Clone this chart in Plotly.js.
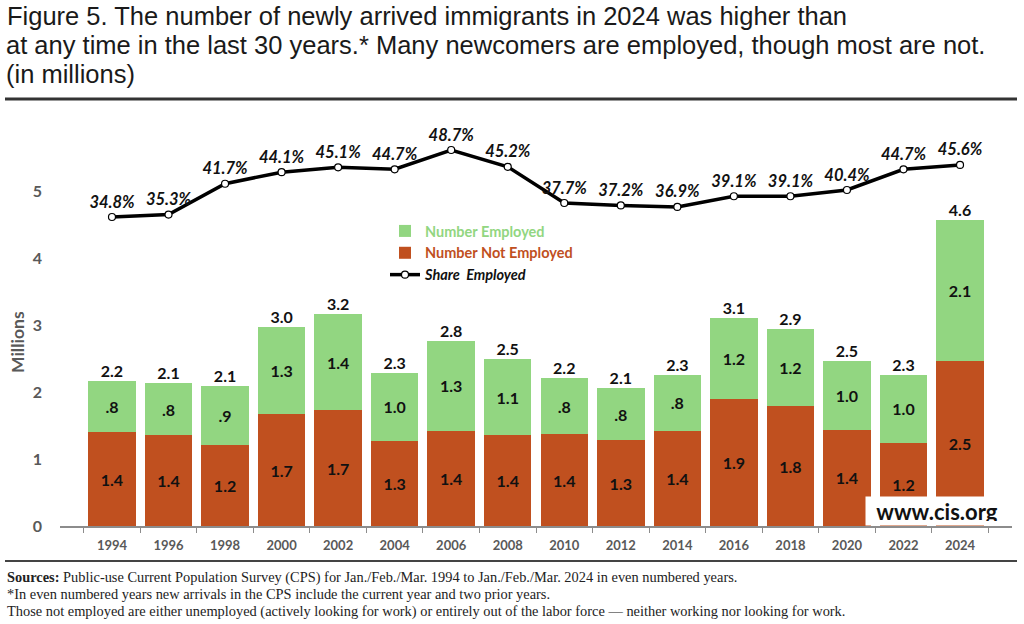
<!DOCTYPE html>
<html>
<head>
<meta charset="utf-8">
<script src="https://cdn.plot.ly/plotly-3.0.1.min.js"></script>
<style>html,body{margin:0;padding:0;background:#fff;}#chart{width:1024px;height:624px;}</style>
</head>
<body>
<div id="chart"></div>
<script>
// ---- data ----
const years = ['1994','1996','1998','2000','2002','2004','2006','2008','2010','2012','2014','2016','2018','2020','2022','2024'];
const notEmployed = [1.40,1.36,1.21,1.67,1.73,1.27,1.42,1.36,1.37,1.28,1.42,1.89,1.79,1.44,1.24,2.47];
const employed    = [0.77,0.77,0.88,1.30,1.43,1.02,1.34,1.13,0.84,0.78,0.84,1.22,1.15,1.02,1.02,2.10];
const shareEmployed = [34.8,35.3,41.7,44.1,45.1,44.7,48.7,45.2,37.7,37.2,36.9,39.1,39.1,40.4,44.7,45.6];
const titleLines = [
  'Figure 5. The number of newly arrived immigrants in 2024 was higher than',
  'at any time in the last 30 years.* Many newcomers are employed, though most are not.',
  '(in millions)'
];
const notes = [
  '<b>Sources:</b> Public-use Current Population Survey (CPS) for Jan./Feb./Mar. 1994 to Jan./Feb./Mar. 2024 in even numbered years.',
  '*In even numbered years new arrivals in the CPS include the current year and two prior years.',
  'Those not employed are either unemployed (actively looking for work) or entirely out of the labor force — neither working nor looking for work.'
];

const totals = notEmployed.map((v,i)=> +(v+employed[i]).toFixed(2));
function fmt(v){ let s=(Math.round(v*10)/10).toFixed(1); return s.startsWith('0')? s.slice(1): s; }

// ---- geometry helpers (plot area: x 60..1012, y 110..526) ----
const L=60, R=12, T=110, B=98, W=1024, H=624;
const pw=W-L-R, ph=H-T-B;
const px = x => (x-L)/pw;
const py = y => (H-B-y)/ph;

const GREEN='#92d681', ORANGE='#c0501f', GRAY='#595959';
const LBL="Lato, 'Open Sans', sans-serif";
const TTL="'Liberation Sans', Arial, Helvetica, sans-serif";

const traces = [
  {type:'bar', x:years, y:notEmployed, name:'<b><span style="color:'+ORANGE+'">Number Not Employed</span></b>',
   marker:{color:ORANGE}, text:notEmployed.map(fmt), textposition:'inside', insidetextanchor:'middle',
   textfont:{family:LBL, size:16, color:'#111', weight:700}, constraintext:'none', legendrank:2, hoverinfo:'x+y'},
  {type:'bar', x:years, y:employed, name:'<b><span style="color:'+GREEN+'">Number Employed</span></b>',
   marker:{color:GREEN}, text:employed.map(fmt), textposition:'inside', insidetextanchor:'middle',
   textfont:{family:LBL, size:16, color:'#111', weight:700}, constraintext:'none', legendrank:1, hoverinfo:'x+y'},
  {type:'scatter', mode:'text', x:years, y:totals, text:totals.map(fmt), textposition:'top center',
   textfont:{family:LBL, size:16, color:'#111', weight:700}, showlegend:false, hoverinfo:'skip', cliponaxis:false},
  {type:'scatter', mode:'lines+markers+text', x:years, y:shareEmployed, yaxis:'y2',
   name:'<b><i>Share  Employed</i></b>', line:{color:'#000', width:3.5},
   marker:{symbol:'circle', size:7, color:'#fff', line:{color:'#000', width:1.2}},
   text:shareEmployed.map(v=>'<b><i>'+v.toFixed(1)+'%</i></b>'), textposition:'top center',
   textfont:{family:LBL, size:16.5, color:'#111'}, legendrank:3, cliponaxis:false}
];

const srcFont = {family:"'Liberation Serif', serif", size:14.4, color:'#222'};
const ttlFont = {family:TTL, size:25.5, color:'#1a1a1a'};
const layout = {
  width:W, height:H,
  margin:{l:L, r:R, t:T, b:B},
  paper_bgcolor:'#fff', plot_bgcolor:'#fff',
  barmode:'stack', bargap:0.16,
  title:{text:titleLines[0], x:7/W, xanchor:'left', y:1-16/H, yanchor:'middle', xref:'container', yref:'container', font:ttlFont},
  showlegend:true,
  legend:{x:px(385), y:py(215), xanchor:'left', yanchor:'top', bgcolor:'rgba(0,0,0,0)',
          font:{family:LBL, size:14.5, color:'#111'}, traceorder:'normal'},
  xaxis:{type:'category', showgrid:false, zeroline:false, showline:true, linecolor:'#8c8c8c', linewidth:1.5,
         ticks:'outside', tickson:'boundaries', ticklen:5, tickcolor:'#8c8c8c',
         tickfont:{family:LBL, size:13, color:GRAY, weight:700}, ticklabelstandoff:7, fixedrange:true},
  yaxis:{range:[0, ph/67], tickvals:[0,1,2,3,4,5], showgrid:false, zeroline:false, showline:false,
         tickfont:{family:LBL, size:16, color:GRAY, weight:700}, ticklabelstandoff:17, fixedrange:true},
  yaxis2:{overlaying:'y', side:'right', range:[48.7-(526-150)/4.82, 48.7+(150-110)/4.82],
          visible:false, showgrid:false, zeroline:false, fixedrange:true},
  shapes:[
    {type:'line', xref:'paper', yref:'paper', x0:px(5), x1:px(1017), y0:py(99), y1:py(99), line:{color:'#333', width:3}},
    {type:'line', xref:'paper', yref:'paper', x0:px(5), x1:px(1017), y0:py(561), y1:py(561), line:{color:'#444', width:2}}
  ],
  annotations:[
    {xref:'paper', yref:'paper', x:px(4), y:py(45), xanchor:'left', yanchor:'middle', showarrow:false, text:titleLines[1], font:ttlFont},
    {xref:'paper', yref:'paper', x:px(4), y:py(74), xanchor:'left', yanchor:'middle', showarrow:false, text:titleLines[2], font:ttlFont},
    {xref:'paper', yref:'paper', x:px(17), y:py(342), text:'<b>Millions</b>', showarrow:false, textangle:-90,
     font:{family:LBL, size:17.5, color:GRAY}, xanchor:'center', yanchor:'middle'},
    {xref:'paper', yref:'paper', x:px(937), y:py(511), text:'<b>www.cis.org</b>', showarrow:false,
     bgcolor:'#fff', width:134, height:20, borderpad:4, font:{family:LBL, size:22, color:'#111'},
     xanchor:'center', yanchor:'middle'},
    {xref:'paper', yref:'paper', x:px(5), y:py(577), xanchor:'left', yanchor:'middle', showarrow:false, align:'left', text:notes[0], font:srcFont},
    {xref:'paper', yref:'paper', x:px(5), y:py(594), xanchor:'left', yanchor:'middle', showarrow:false, align:'left', text:notes[1], font:srcFont},
    {xref:'paper', yref:'paper', x:px(5), y:py(611), xanchor:'left', yanchor:'middle', showarrow:false, align:'left', text:notes[2], font:srcFont}
  ]
};
Plotly.newPlot('chart', traces, layout, {displayModeBar:false, staticPlot:true});
</script>
</body>
</html>
